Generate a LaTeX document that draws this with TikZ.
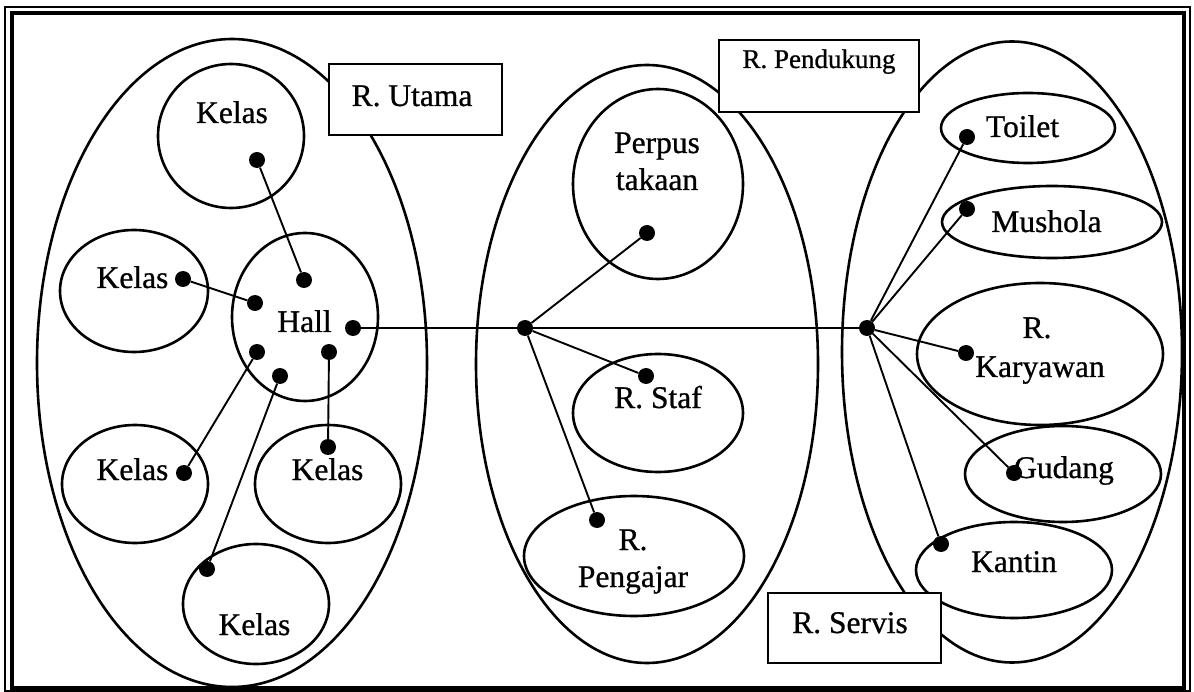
\documentclass[tikz,border=0pt]{standalone}
\usepackage{fontspec}
\setmainfont{Liberation Serif}[FakeBold=0.8]
\usetikzlibrary{shapes.geometric}

\tikzset{
  zone/.style={draw, ellipse, line width=2.6pt, inner sep=0pt},
  room/.style={draw, ellipse, line width=2.6pt, inner sep=0pt},
  dot/.style={circle, fill=black, inner sep=0pt, minimum size=16pt},
  link/.style={line width=1.9pt},
  txt/.style={font=\fontsize{31.5}{37}\selectfont, inner sep=0pt, anchor=base},
  smalltxt/.style={font=\fontsize{27}{32}\selectfont, inner sep=0pt, anchor=base},
  tagbox/.style={draw, rectangle, fill=white, line width=2pt, inner sep=0pt},
}

\begin{document}
\begin{tikzpicture}[x=1pt, y=-1pt]
\useasboundingbox (0,0) rectangle (1194,692);

% double frame
\draw[line width=2.6pt] (5,7) rectangle (1190,691);
\draw[line width=3.2pt] (12,13) rectangle (1184,688);

% main zones
\node[zone, minimum width=390pt, minimum height=648pt] (zU) at (232,363) {};
\node[zone, minimum width=342pt, minimum height=598pt] (zP) at (647,364) {};
\node[zone, minimum width=340pt, minimum height=621pt] (zS) at (1012,352) {};

% ruang utama
\node[room, minimum width=146pt, minimum height=144pt] (k1) at (231,136) {};
\node[room, minimum width=148pt, minimum height=122pt] (k2) at (134,291) {};
\node[room, minimum width=146pt, minimum height=168pt] (hall) at (305,317) {};
\node[room, minimum width=146pt, minimum height=118pt] (k3) at (135,484) {};
\node[room, minimum width=146pt, minimum height=118pt] (k4) at (328,484) {};
\node[room, minimum width=146pt, minimum height=120pt] (k5) at (256,604) {};

% ruang pendukung
\node[room, minimum width=170pt, minimum height=190pt] (perpus) at (658,184) {};
\node[room, minimum width=170pt, minimum height=118pt] (staf) at (658,413) {};
\node[room, minimum width=220pt, minimum height=120pt] (pengajar) at (634,556) {};

% ruang servis
\node[room, minimum width=174pt, minimum height=70pt] (toilet) at (1028,128) {};
\node[room, minimum width=220pt, minimum height=72pt] (mushola) at (1052,222) {};
\node[room, minimum width=246pt, minimum height=142pt] (karyawan) at (1040,354) {};
\node[room, minimum width=196pt, minimum height=96pt] (gudang) at (1063,474) {};
\node[room, minimum width=196pt, minimum height=96pt] (kantin) at (1014,570) {};

% room labels
\node[txt] (tk1) at (232,123) {Kelas};
\node[txt] (tk2) at (132.5,288) {Kelas};
\node[txt] (thall) at (304.5,332) {Hall};
\node[txt] (tk3) at (132.5,480) {Kelas};
\node[txt] (tk4) at (327.5,480) {Kelas};
\node[txt] (tk5) at (254.5,635) {Kelas};
\node[txt] (tperpusA) at (657,153) {Perpus};
\node[txt] (tperpusB) at (657,190) {takaan};
\node[txt] (tstaf) at (658,408) {R. Staf};
\node[txt] (tpengA) at (633,550) {R.};
\node[txt] (tpengB) at (633,587) {Pengajar};
\node[txt] (ttoilet) at (1022.5,137) {Toilet};
\node[txt] (tmushola) at (1046.5,232) {Mushola};
\node[txt] (tkarA) at (1037,338) {R.};
\node[txt] (tkarB) at (1040,377) {Karyawan};
\node[txt] (tgudang) at (1064,478) {Gudang};
\node[txt] (tkantin) at (1014,572) {Kantin};

% connection points
\node[dot] (dk1) at (257,160) {};
\node[dot] (dh1) at (304,280) {};
\node[dot] (dk2) at (183,279) {};
\node[dot] (dh2) at (255,303) {};
\node[dot] (dh3) at (353,328) {};
\node[dot] (dh4) at (257,352) {};
\node[dot] (dk3) at (184,473) {};
\node[dot] (dh5) at (329,352) {};
\node[dot] (dk4) at (328,447) {};
\node[dot] (dh6) at (280,376) {};
\node[dot] (dk5) at (207,569) {};
\node[dot] (hubM) at (525,328) {};
\node[dot] (dp) at (647,233) {};
\node[dot] (ds) at (646,376) {};
\node[dot] (dg) at (597,520) {};
\node[dot] (hubR) at (867,328) {};
\node[dot] (dt) at (967,137) {};
\node[dot] (dm) at (967,209) {};
\node[dot] (dr) at (966,353) {};
\node[dot] (dgu) at (1014,473) {};
\node[dot] (dka) at (941,544) {};

% links
\draw[link] (dk1) -- (dh1);
\draw[link] (dk2) -- (dh2);
\draw[link] (dh4) -- (dk3);
\draw[link] (dh5) -- (dk4);
\draw[link] (dh6) -- (dk5);
\draw[link] (dh3) -- (hubM);
\draw[link] (hubM) -- (hubR);
\draw[link] (hubM) -- (dp);
\draw[link] (hubM) -- (ds);
\draw[link] (hubM) -- (dg);
\draw[link] (hubR) -- (dt);
\draw[link] (hubR) -- (dm);
\draw[link] (hubR) -- (dr);
\draw[link] (hubR) -- (dgu);
\draw[link] (hubR) -- (dka);

% zone tags
\node[tagbox, minimum width=173pt, minimum height=71pt] (bU) at (415.5,99.5) {};
\node[txt] (tU) at (412,106) {R. Utama};
\node[tagbox, minimum width=200pt, minimum height=72pt] (bP) at (819,76) {};
\node[smalltxt] (tP) at (819,68) {R. Pendukung};
\node[tagbox, minimum width=173pt, minimum height=70pt] (bS) at (854.5,628) {};
\node[txt] (tS) at (850,633) {R. Servis};
\end{tikzpicture}
\end{document}
